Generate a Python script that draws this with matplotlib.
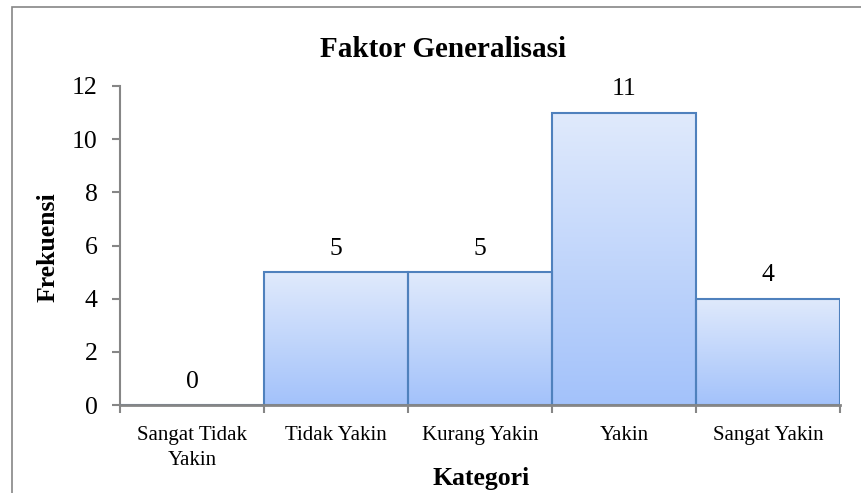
import numpy as np
import matplotlib
matplotlib.use("Agg")
import matplotlib.pyplot as plt
from matplotlib.colors import LinearSegmentedColormap
from matplotlib.patches import Rectangle

# Data
categories = ["Sangat Tidak\nYakin", "Tidak Yakin", "Kurang Yakin", "Yakin", "Sangat Yakin"]
frekuensi = [0, 5, 5, 11, 4]
y_ticks = [0, 2, 4, 6, 8, 10, 12]

plt.rcParams['font.family'] = ['Liberation Serif', 'DejaVu Serif']

axis_grey = "#868686"
edge_blue = "#4f81bd"
grad = LinearSegmentedColormap.from_list("bar_grad", ["#a3c2fa", "#e0eafc"])

fig = plt.figure(figsize=(8.62, 4.93), dpi=100)
ax = fig.add_axes([120 / 862, 1 - 405 / 493, 720 / 862, 319 / 493])

x = np.arange(len(categories))
bars = ax.bar(x, frekuensi, width=1.0, facecolor="none", edgecolor=edge_blue,
              linewidth=1.5, zorder=3)

# vertical gradient inside each bar (darker at the bottom)
gradient = np.linspace(0, 1, 256).reshape(-1, 1)
for b in bars:
    h = b.get_height()
    if h <= 0:
        continue
    x0 = b.get_x()
    w = b.get_width()
    im = ax.imshow(gradient, cmap=grad, origin="lower", aspect="auto",
                   extent=[x0, x0 + w, 0, h], zorder=2)
    im.set_clip_path(b)

for xi, v in zip(x, frekuensi):
    ax.annotate(str(v), (xi, v), xytext=(0, 9), textcoords="offset points",
                ha="center", va="bottom", fontsize=18.5)

ax.set_xlim(-0.5, len(categories) - 0.5)
ax.set_ylim(0, 12)
ax.set_yticks(y_ticks)
ax.set_yticklabels([str(t) for t in y_ticks], fontsize=18.5)

# ticks at category boundaries, labels at the centres
ax.set_xticks(np.arange(len(categories) + 1) - 0.5)
ax.set_xticklabels([])
ax.set_xticks(x, minor=True)
ax.set_xticklabels(categories, minor=True, fontsize=15, linespacing=1.45)
ax.tick_params(axis="x", which="major", direction="out", length=6, width=1.5, color=axis_grey)
ax.tick_params(axis="x", which="minor", length=0, pad=15)
ax.tick_params(axis="y", direction="out", length=6, width=1.5, color=axis_grey, pad=10)

for s in ["top", "right"]:
    ax.spines[s].set_visible(False)
ax.spines["left"].set_color(axis_grey)
ax.spines["left"].set_linewidth(1.5)
ax.spines["bottom"].set_color(axis_grey)
ax.spines["bottom"].set_linewidth(2)
ax.spines["bottom"].set_zorder(4)

fig.text(442.5 / 862, 1 - 57 / 493, "Faktor Generalisasi", ha="center", va="baseline",
         fontsize=21, fontweight="bold")
fig.text(481 / 862, 1 - 485 / 493, "Kategori", ha="center", va="baseline",
         fontsize=18.5, fontweight="bold")
fig.text(48 / 862, 1 - 247 / 493, "Frekuensi", ha="center", va="center", rotation=90,
         fontsize=18.5, fontweight="bold")

# outer chart border (only top/left inside the crop)
fig.patches.append(Rectangle((12 / 862, -0.1), 1.2, 1.1 - 7 / 493,
                             transform=fig.transFigure, fill=False,
                             edgecolor=axis_grey, linewidth=1.2))

fig.savefig("out.png", dpi=100)
